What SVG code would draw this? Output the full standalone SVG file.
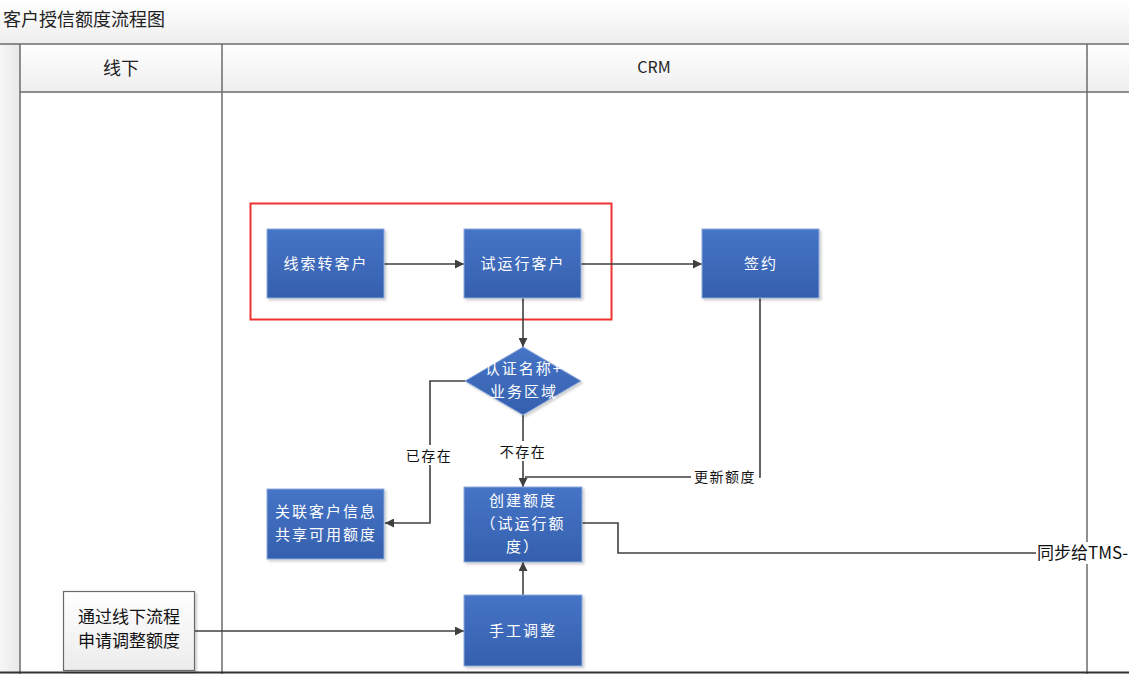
<svg xmlns="http://www.w3.org/2000/svg" width="1129" height="674" viewBox="0 0 1129 674">
<defs>
<linearGradient id="gBar" x1="0" y1="0" x2="0" y2="1"><stop offset="0" stop-color="#ffffff"/><stop offset="1" stop-color="#eeeeee"/></linearGradient>
<linearGradient id="gSide" x1="0" y1="0" x2="1" y2="0"><stop offset="0" stop-color="#f6f6f6"/><stop offset="1" stop-color="#e8e8e8"/></linearGradient>
<linearGradient id="gBlue" x1="0" y1="0" x2="0" y2="1"><stop offset="0" stop-color="#4674c6"/><stop offset="1" stop-color="#3560ae"/></linearGradient>
<linearGradient id="gWhite" x1="0" y1="0" x2="0" y2="1"><stop offset="0" stop-color="#ffffff"/><stop offset="1" stop-color="#ececec"/></linearGradient>
<marker id="arr" viewBox="0 0 10 10" refX="10" refY="5" markerWidth="9" markerHeight="9" markerUnits="userSpaceOnUse" orient="auto"><path d="M0,0 L10,5 L0,10 z" fill="#404040"/></marker>
<filter id="sh" x="-10%" y="-10%" width="130%" height="130%"><feDropShadow dx="2" dy="2" stdDeviation="1.2" flood-color="#000" flood-opacity="0.18"/></filter>
</defs>
<style>
.t{font-family:"Noto Sans CJK SC","Liberation Sans",sans-serif;}
.w{fill:#ffffff;font-size:15px;letter-spacing:2px;text-anchor:middle;}
.k{fill:#111;font-size:14px;letter-spacing:1.5px;text-anchor:middle;}
.box{fill:url(#gBlue);stroke:#8eaadb;stroke-width:1;filter:url(#sh);}
.ln{fill:none;stroke:#404040;stroke-width:1.6;}
.grid{stroke:#6b6b6b;stroke-width:1.5;fill:none;}
</style>
<rect x="0" y="0" width="1129" height="674" fill="#ffffff"/>
<g id="frame">
<rect x="0" y="0" width="1129" height="44" fill="url(#gBar)"/>
<rect x="0" y="44" width="20" height="630" fill="url(#gSide)"/>
<rect x="20" y="44" width="1109" height="48" fill="url(#gBar)"/>
<line class="grid" x1="0" y1="44" x2="1129" y2="44"/>
<line class="grid" x1="20" y1="92" x2="1129" y2="92"/>
<line class="grid" x1="20" y1="44" x2="20" y2="674"/>
<line class="grid" x1="222" y1="44" x2="222" y2="674"/>
<line class="grid" x1="1087" y1="44" x2="1087" y2="674"/>
<line x1="0" y1="672.5" x2="1129" y2="672.5" stroke="#333" stroke-width="2"/>
<text class="t" x="3" y="26" font-size="18" fill="#222">客户授信额度流程图</text>
<text class="t" x="121" y="75" font-size="18" fill="#222" text-anchor="middle">线下</text>
<text class="t" x="654" y="73" font-size="16" fill="#222" text-anchor="middle">CRM</text>
</g>
<g id="highlight"><rect x="250.5" y="203.5" width="361" height="116" fill="none" stroke="#ee3333" stroke-width="2"/></g>
<g id="connectors">
<path class="ln" d="M384,264 L464,264" marker-end="url(#arr)"/>
<path class="ln" d="M581,264 L702,264" marker-end="url(#arr)"/>
<path class="ln" d="M523,298 L523,347" marker-end="url(#arr)"/>
<path class="ln" d="M466,381 L430,381 L430,523 L385,523" marker-end="url(#arr)"/>
<path class="ln" d="M523,415 L523,487" marker-end="url(#arr)"/>
<path class="ln" d="M760,298 L760,477 L525,477"/>
<path class="ln" d="M582,523 L618,523 L618,553 L1129,553"/>
<path class="ln" d="M523,595 L523,562" marker-end="url(#arr)"/>
<path class="ln" d="M195,631 L464,631" marker-end="url(#arr)"/>
<rect x="400" y="445" width="58" height="20" fill="#fff"/>
<text class="t k" x="429" y="461">已存在</text>
<rect x="495" y="441" width="56" height="20" fill="#fff"/>
<text class="t k" x="523" y="457">不存在</text>
<rect x="691" y="467" width="68" height="19" fill="#fff"/>
<text class="t k" x="725" y="482">更新额度</text>
<rect x="1036" y="542" width="93" height="22" fill="#fff"/>
<text class="t" x="1037" y="559" font-size="17" fill="#111">同步给TMS-</text>
</g>
<g id="n1"><rect class="box" x="267" y="229" width="117" height="69"/><text class="t w" x="326" y="269">线索转客户</text></g>
<g id="n2"><rect class="box" x="464" y="229" width="117" height="69"/><text class="t w" x="523" y="269">试运行客户</text></g>
<g id="n3"><rect class="box" x="702" y="229" width="117" height="69"/><text class="t w" x="761" y="269">签约</text></g>
<g id="d1"><path d="M523,347 L581,381 L523,415 L465,381 z" fill="url(#gBlue)" stroke="#8eaadb" stroke-width="1" filter="url(#sh)"/><text class="t w" x="524" y="374">认证名称+</text><text class="t w" x="524" y="397">业务区域</text></g>
<g id="n4"><rect class="box" x="267" y="489" width="117" height="70"/><text class="t w" x="326" y="517">关联客户信息</text><text class="t w" x="326" y="540">共享可用额度</text></g>
<g id="n5"><rect class="box" x="464" y="487" width="118" height="75"/><text class="t w" x="523" y="506">创建额度</text><text class="t w" x="523" y="529">（试运行额</text><text class="t w" x="523" y="552">度）</text></g>
<g id="n6"><rect class="box" x="464" y="595" width="118" height="71"/><text class="t w" x="523" y="636">手工调整</text></g>
<g id="n7"><rect x="63.5" y="591.5" width="131" height="79" fill="url(#gWhite)" stroke="#6b6b6b" stroke-width="1.2" filter="url(#sh)"/><text class="t" x="129" y="623" font-size="17" fill="#111" text-anchor="middle">通过线下流程</text><text class="t" x="129" y="647" font-size="17" fill="#111" text-anchor="middle">申请调整额度</text></g>
</svg>
